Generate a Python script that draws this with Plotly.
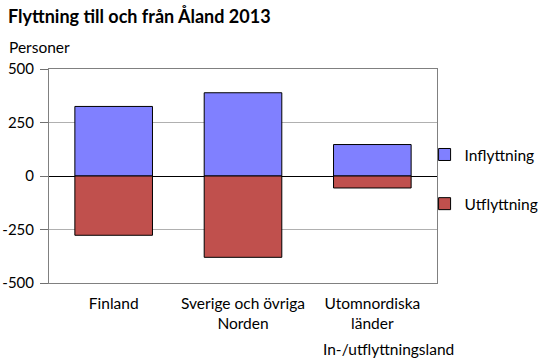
import plotly.graph_objects as go

categories = ["Finland", "Sverige och övriga<br>Norden", "Utomnordiska<br>länder"]
inflyttning = [325, 389, 147]
utflyttning = [-277, -380, -56]
y_ticks = [-500, -250, 0, 250, 500]

FONT = "Lato"
FS = 15.5

fig = go.Figure()
fig.add_trace(go.Bar(x=categories, y=inflyttning, name="Inflyttning",
                     marker=dict(color="#8080FF", line=dict(color="#000000", width=1)),
                     legendgroup="a"))
fig.add_trace(go.Bar(x=categories, y=utflyttning, name="Utflyttning",
                     marker=dict(color="#C0504D", line=dict(color="#000000", width=1)),
                     legendgroup="b"))

W, H = 559, 361
fig.update_layout(
    width=W, height=H,
    margin=dict(l=49, r=122, t=69, b=78),
    barmode="relative",
    bargap=0.4,
    plot_bgcolor="white",
    paper_bgcolor="white",
    font=dict(family=FONT, size=FS, color="#000000"),
    title=dict(text="<b>Flyttning till och från Åland 2013</b>", xref="container", x=8 / W,
               xanchor="left", yref="container", y=1 - 17 / H, yanchor="middle",
               pad=dict(l=0, r=0, t=0, b=0), font=dict(family=FONT, size=18)),
    showlegend=True,
    legend=dict(x=0.968, xanchor="left", y=0.484, yanchor="middle",
                tracegroupgap=26, font=dict(family=FONT, size=FS),
                bgcolor="rgba(0,0,0,0)"),
    annotations=[
        dict(text="Personer", xref="paper", yref="paper", x=-0.108, y=1.103,
             xanchor="left", yanchor="middle", showarrow=False, font=dict(family=FONT, size=FS)),
        dict(text="In-/utflyttningsland", xref="paper", yref="paper", x=0.876, y=-0.31,
             xanchor="center", yanchor="middle", showarrow=False, font=dict(family=FONT, size=FS)),
    ],
)
fig.update_yaxes(range=[-500, 500], tickvals=y_ticks, ticktext=[str(v) for v in y_ticks],
                 automargin=False,
                 showgrid=True, gridcolor="#B0B0B0", gridwidth=1,
                 zeroline=True, zerolinecolor="#000000", zerolinewidth=1,
                 showline=True, linecolor="#808080", linewidth=1, mirror=True,
                 ticks="outside", ticklen=8, tickcolor="#707070",
                 tickfont=dict(family=FONT, size=15), ticklabelstandoff=3)
fig.update_xaxes(showline=True, linecolor="#808080", linewidth=1, mirror=True,
                 automargin=False,
                 ticks="", tickfont=dict(family=FONT, size=FS), ticklabelstandoff=6)

fig.write_html("out.html", config={"displayModeBar": False},
               post_script="document.body.style.margin='0';document.body.style.padding='0';")
